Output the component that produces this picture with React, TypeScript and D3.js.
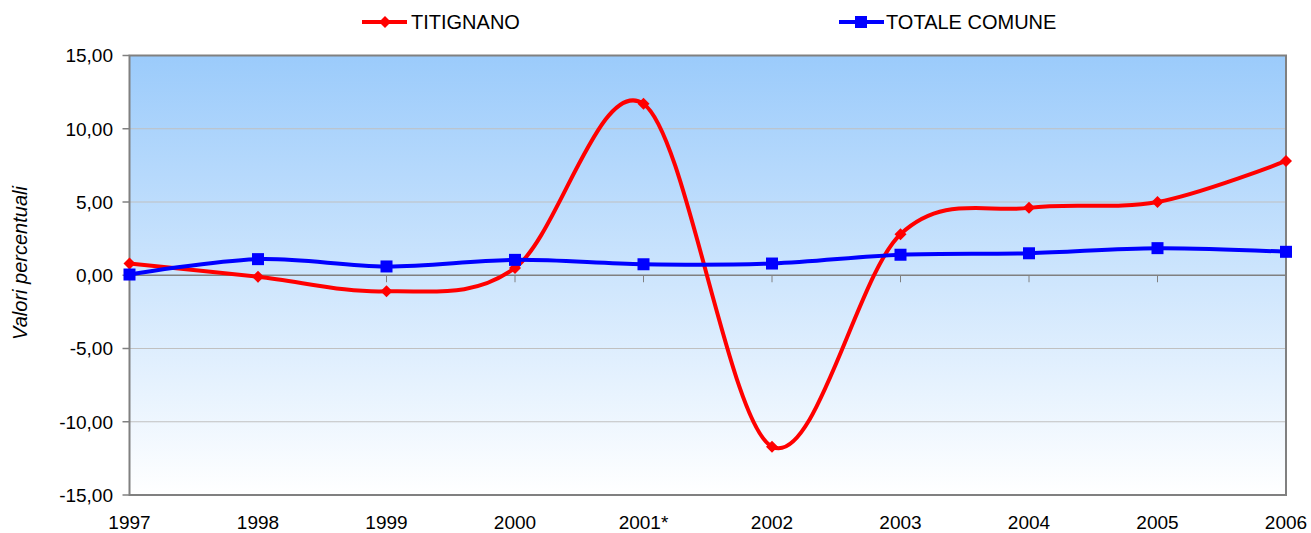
import React from "react";
import * as d3 from "d3";

const years = ["1997", "1998", "1999", "2000", "2001*", "2002", "2003", "2004", "2005", "2006"];
const titignano = [0.8, -0.1, -1.1, 0.5, 11.7, -11.7, 2.8, 4.6, 5.0, 7.8];
const totaleComune = [0.05, 1.1, 0.6, 1.05, 0.75, 0.8, 1.4, 1.5, 1.85, 1.6];
const yTicks = [-15, -10, -5, 0, 5, 10, 15];

const W = 1311;
const H = 533;
const left = 129.5;
const right = 1286;
const top = 55.5;
const bottom = 495;

const fmt = (v: number) => v.toFixed(2).replace(".", ",");

export default function App() {
  const x = d3.scalePoint<string>().domain(years).range([left, right]).padding(0);
  const y = d3.scaleLinear().domain([-15, 15]).range([bottom, top]);
  const line = d3
    .line<number>()
    .x((_, i) => x(years[i]) as number)
    .y((d) => y(d))
    .curve(d3.curveCardinal.tension(0));
  const font = "'Liberation Sans', Arial, sans-serif";

  return (
    <svg
      width={W}
      height={H}
      style={{ position: "absolute", left: 0, top: 0, fontFamily: font }}
    >
      <defs>
        <linearGradient id="bg" x1="0" y1="0" x2="0" y2="1">
          <stop offset="0%" stopColor="#9BCBFB" />
          <stop offset="100%" stopColor="#FFFFFF" />
        </linearGradient>
      </defs>
      <rect x={0} y={0} width={W} height={H} fill="#fff" />
      <rect x={left} y={top} width={right - left} height={bottom - top} fill="url(#bg)" />
      {yTicks.map((t) => (
        <g key={t}>
          {t !== 15 && t !== -15 && t !== 0 && (
            <line x1={left} x2={right} y1={y(t)} y2={y(t)} stroke="#C0C0C0" strokeWidth={1} />
          )}
          <line x1={left - 7} x2={left} y1={y(t)} y2={y(t)} stroke="#808080" strokeWidth={1.5} />
          <text
            x={113}
            y={y(t)}
            dy="0.36em"
            textAnchor="end"
            fontSize={19}
            fill="#000"
          >
            {fmt(t)}
          </text>
        </g>
      ))}
      {/* plot border */}
      <rect
        x={left}
        y={top}
        width={right - left}
        height={bottom - top}
        fill="none"
        stroke="#808080"
        strokeWidth={2}
      />
      {/* category axis at zero */}
      <line x1={left} x2={right} y1={y(0)} y2={y(0)} stroke="#808080" strokeWidth={1.5} />
      {years.map((yr) => (
        <g key={yr}>
          <line
            x1={x(yr)}
            x2={x(yr)}
            y1={y(0)}
            y2={y(0) + 7}
            stroke="#808080"
            strokeWidth={1}
          />
          <text x={x(yr)} y={529} textAnchor="middle" fontSize={19} fill="#000">
            {yr}
          </text>
        </g>
      ))}
      <path d={line(titignano) || ""} fill="none" stroke="#FF0000" strokeWidth={4} />
      <path d={line(totaleComune) || ""} fill="none" stroke="#0000FF" strokeWidth={4} />
      {titignano.map((v, i) => {
        const cx = x(years[i]) as number;
        const cy = y(v);
        return (
          <path
            key={"d" + i}
            d={`M${cx},${cy - 6}L${cx + 6},${cy}L${cx},${cy + 6}L${cx - 6},${cy}Z`}
            fill="#FF0000"
          />
        );
      })}
      {totaleComune.map((v, i) => {
        const cx = x(years[i]) as number;
        const cy = y(v);
        return <rect key={"s" + i} x={cx - 6} y={cy - 6} width={12} height={12} fill="#0000FF" />;
      })}
      <text
        transform={`translate(27,263) rotate(-90)`}
        textAnchor="middle"
        fontSize={20}
        fontStyle="italic"
        fill="#000"
      >
        Valori percentuali
      </text>
      {/* legend */}
      <g>
        <line x1={362} x2={407} y1={22} y2={22} stroke="#FF0000" strokeWidth={4} />
        <path d="M385,16L391,22L385,28L379,22Z" fill="#FF0000" />
        <text x={411} y={22} dy="0.36em" fontSize={20} fill="#000">
          TITIGNANO
        </text>
        <line x1={839} x2={884} y1={22} y2={22} stroke="#0000FF" strokeWidth={4} />
        <rect x={855} y={16} width={12} height={12} fill="#0000FF" />
        <text x={886} y={22} dy="0.36em" fontSize={20} fill="#000">
          TOTALE COMUNE
        </text>
      </g>
    </svg>
  );
}
